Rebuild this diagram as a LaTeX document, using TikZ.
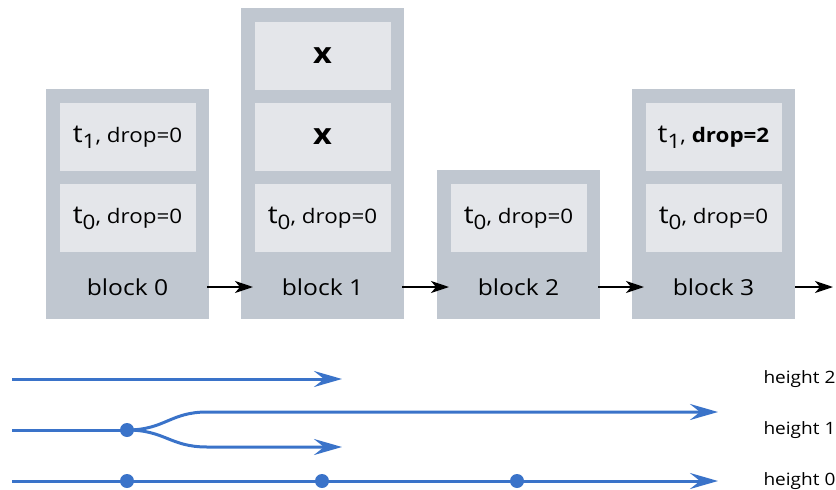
\documentclass[tikz,border=0pt]{standalone}
\usepackage{fontspec}
\setmainfont{Open Sans}[FakeStretch=1.12]
\usetikzlibrary{arrows.meta,positioning}

\definecolor{blockgray}{HTML}{C0C7D0}
\definecolor{slotgray}{HTML}{E4E6EA}
\definecolor{chainblue}{HTML}{3A73C9}

\newcommand{\txslot}[2]{{\fontsize{25}{30}\selectfont t\raisebox{-6pt}{\fontsize{20}{24}\selectfont #1}}{\fontsize{20}{24}\selectfont , #2}}

\tikzset{
  block/.style={fill=blockgray, minimum width=163pt, inner sep=0pt, anchor=south west},
  slot/.style={fill=slotgray, minimum width=136pt, minimum height=68pt, inner sep=0pt},
  blocklabel/.style={font=\fontsize{22}{26}\selectfont},
  link/.style={-{Stealth[length=18pt, width=12pt, inset=5pt]}, line width=2pt},
  chain/.style={chainblue, line width=3pt, -{Stealth[length=28pt, width=16pt, inset=10pt]}},
  chaindot/.style={circle, fill=chainblue, minimum size=14pt, inner sep=0pt},
  heightlabel/.style={anchor=west, font=\fontsize{17}{21}\selectfont}
}

\begin{document}
\begin{tikzpicture}[x=1pt, y=-1pt]
  \useasboundingbox (0,0) rectangle (836,490);

  % blocks
  \foreach \i/\x/\h in {0/46/230, 1/241/311, 2/437/149, 3/632/230} {
    \node[block, minimum height=\h pt] (blk\i) at (\x,319) {};
    \node[blocklabel] (lbl\i) at (\x+81.5,287) {block \i};
  }

  \node[slot] (s01) at (127.5,137) {\txslot{1}{drop=0}};
  \node[slot] (s00) at (127.5,218) {\txslot{0}{drop=0}};
  \node[slot] (s12) at (322.5,56) {\fontsize{29}{34}\selectfont\bfseries x};
  \node[slot] (s11) at (322.5,137) {\fontsize{29}{34}\selectfont\bfseries x};
  \node[slot] (s10) at (322.5,218) {\txslot{0}{drop=0}};
  \node[slot] (s20) at (518.5,218) {\txslot{0}{drop=0}};
  \node[slot] (s31) at (713.5,137) {\txslot{1}{\bfseries drop=2}};
  \node[slot] (s30) at (713.5,218) {\txslot{0}{drop=0}};

  \coordinate (blkend) at (833,287);
  \draw[link, shorten <=-2pt, shorten >=-12pt] (blk0.east |- lbl0) -- (blk1.west |- lbl0);
  \draw[link, shorten <=-2pt, shorten >=-12pt] (blk1.east |- lbl1) -- (blk2.west |- lbl1);
  \draw[link, shorten <=-2pt, shorten >=-12pt] (blk2.east |- lbl2) -- (blk3.west |- lbl2);
  \draw[link] (blk3.east |- lbl3) -- (blkend);

  % heights
  \coordinate (h2start) at (12,379);
  \coordinate (h2end) at (342,379);
  \coordinate (h1start) at (12,430);
  \coordinate (h1up) at (207,412);
  \coordinate (h1upend) at (718,412);
  \coordinate (h1down) at (207,447);
  \coordinate (h1downend) at (342,447);
  \coordinate (h0start) at (12,481);
  \coordinate (h0end) at (718,481);

  \draw[chain] (h2start) -- (h2end);
  \draw[chain, -] (h1start) -- (127,430);
  \draw[chain] (127,430) .. controls (165,430) and (170,412) .. (h1up) -- (h1upend);
  \draw[chain] (127,430) .. controls (165,430) and (170,447) .. (h1down) -- (h1downend);
  \draw[chain] (h0start) -- (h0end);

  \node[chaindot] (fork) at (127,430) {};
  \foreach \x [count=\k] in {127,322,517}
    \node[chaindot] (dot\k) at (\x,481) {};

  \node[heightlabel] (hl2) at (760,379) {height 2};
  \node[heightlabel] (hl1) at (760,430) {height 1};
  \node[heightlabel] (hl0) at (760,481) {height 0};
\end{tikzpicture}
\end{document}
